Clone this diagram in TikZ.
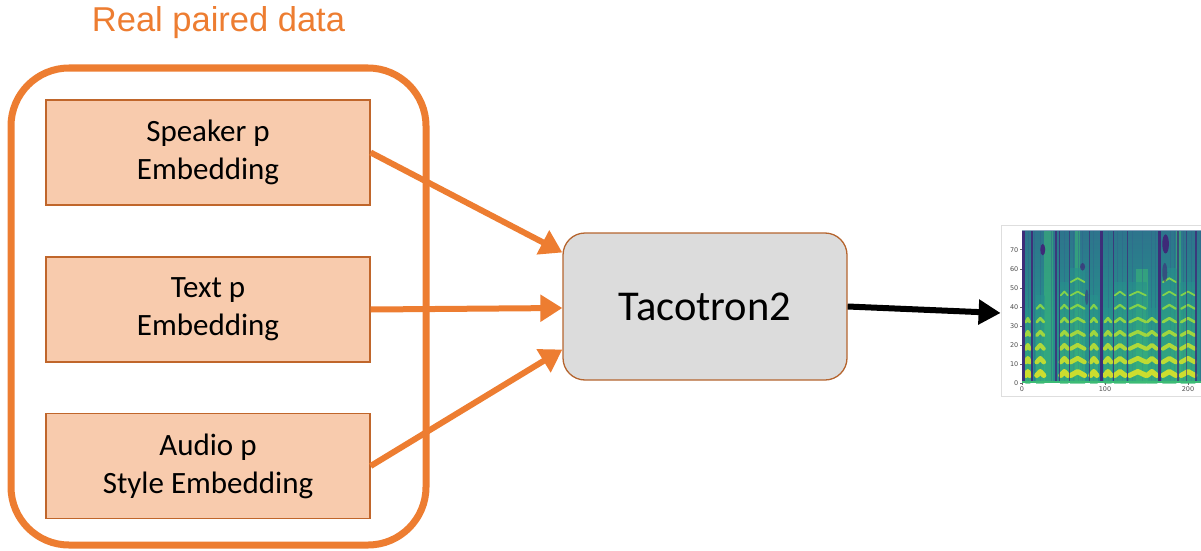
\documentclass[tikz,border=0pt]{standalone}
\usepackage{fontspec}
\setmainfont{Carlito}
\newfontfamily\titlefont{Liberation Sans}
\newfontfamily\tickfont{DejaVu Sans}
\usetikzlibrary{arrows.meta,calc}

\definecolor{accent}{HTML}{ED7D31}
\definecolor{boxfill}{HTML}{F8CBAD}
\definecolor{boxedge}{HTML}{C0662B}
\definecolor{modelfill}{HTML}{DCDCDC}
\definecolor{modeledge}{HTML}{B5652F}
% viridis-like palette for the mel spectrogram
\definecolor{vDark}{HTML}{3E2A78}
\definecolor{vBlue}{HTML}{32628D}
\definecolor{vTeal}{HTML}{27908C}
\definecolor{vGreen}{HTML}{3CBB75}
\definecolor{vLime}{HTML}{95D840}
\definecolor{vYellow}{HTML}{F0E51D}

\tikzset{
  titletext/.style={text=accent, font=\titlefont\fontsize{34.5}{40}\selectfont, inner sep=0pt},
  groupbox/.style={draw=accent, line width=7pt, rounded corners=58pt,
    minimum width=415pt, minimum height=477pt},
  embbox/.style={draw=boxedge, line width=1.3pt, fill=boxfill,
    minimum width=324pt, minimum height=105pt, align=center, inner sep=0pt,
    font=\fontsize{31}{38}\selectfont},
  modelbox/.style={draw=modeledge, line width=1.3pt, fill=modelfill,
    rounded corners=22pt, minimum width=284pt, minimum height=147pt,
    font=\fontsize{42.5}{48}\selectfont},
  feed/.style={draw=accent, line width=6pt, -{Triangle[length=22pt,width=26pt]}},
  outarrow/.style={draw=black, line width=6pt, -{Triangle[length=22pt,width=24pt]}},
  specframe/.style={draw=black!13, line width=0.8pt, minimum width=200pt, minimum height=171pt, inner sep=0pt},
  ticklabel/.style={font=\tickfont\fontsize{6.5}{7}\selectfont, text=black!70, inner sep=1pt},
}

\begin{document}
\begin{tikzpicture}[x=1pt,y=-1pt]
\useasboundingbox (0,0) rectangle (1201,551);

% group of real paired inputs
\node[titletext] (title) at (218.5,23) {Real paired data};
\node[groupbox] (group) at (218.5,306.5) {};

\node[embbox] (spk) at (208,152.5) {Speaker p\\Embedding};
\node[embbox] (txt) at (208,309.5) {Text p\\Embedding};
\node[embbox] (aud) at (208,466) {Audio p\\Style Embedding};

% synthesis model
\node[modelbox] (taco) at (705,306.5) {Tacotron2};

% spectrogram output
\node[specframe] (spec) at (1101,310.5) {};

\draw[feed] (spk.east) -- ($(taco.west)+(0,-54)$);
\draw[feed] (txt.east) -- ($(taco.west)+(0,1.5)$);
\draw[feed] (aud.east) -- ($(taco.west)+(0,43)$);
\draw[outarrow] (taco.east) -- ($(spec.west)+(0,2.5)$);

\begin{scope}[shift={(1022,383)}, x=0.83pt, y=1.905pt]
  \begin{scope}
    \clip (0,0) rectangle (216,80);
    \fill[vTeal] (0,0) rectangle (216,80);
    \shade[top color=vBlue, bottom color=vTeal, opacity=.6] (0,35) rectangle (216,80);
    % fricative noise bands
    \foreach \a/\b/\t in {27/37/80, 137/152/60, 186/191/80, 64/70/80} {
      \fill[vGreen, opacity=.55] (\a,0) rectangle (\b,\t);
    }
    % thin spectral striations
    \foreach \x in {7,15,22,35,50,62,68,72,86,103,115,120,133,145,156,160,178,183,194,203,214} {
      \fill[vBlue, opacity=.45] (\x,0) rectangle ({\x+1.2},80);
    }
    % voiced regions with harmonics
    \foreach \a/\b/\n in {4/10/5, 17/27/6, 46/56/7, 58/76/8, 82/91/6, 99/108/5,
                         111/125/7, 129/150/7, 150/163/5, 169/186/8, 191/209/7} {
      \shade[bottom color=vGreen, top color=vTeal, opacity=.6] (\a,0) rectangle (\b,{7*\n+4});
      \foreach \k in {1,...,\n} {
        \pgfmathsetmacro{\yy}{4+(\k-1)*7}
        \pgfmathsetmacro{\pp}{max(0,100-(\k-1)*20)}
        \pgfmathsetmacro{\lw}{max(1.8,5.2-(\k-1)*0.6)}
        \draw[draw=vYellow!\pp!vLime!80!vGreen, line width=\lw pt, line cap=round, line join=round]
          (\a+0.8,\yy) -- ({(\a+\b)/2},\yy+2) -- (\b-0.8,\yy);
      }
    }
    % silences and closures
    \foreach \x/\w/\o in {1.5/3/.95, 12/2/.9, 41/1.5/.8, 45/1.5/.8, 57/1.5/.7, 81/1.5/.7,
                          95.5/3.5/.95, 110/1.5/.8, 127/1.2/.7, 166/4/.95, 188/2/.7,
                          198/1.2/.6, 210/2/.8} {
      \fill[vDark, opacity=\o] ({\x-\w/2},0) rectangle ({\x+\w/2},80);
    }
    \fill[vDark] (25,70) ellipse [x radius=3, y radius=3];
    \fill[vDark] (173,73) ellipse [x radius=4, y radius=5];
    \fill[vDark, opacity=.7] (73,61) ellipse [x radius=3, y radius=2];
    \fill[vDark, opacity=.6] (172,58) ellipse [x radius=3, y radius=5];
    \fill[vDark, opacity=.5] (78,45) ellipse [x radius=2, y radius=4];
    \fill[vGreen] (0,0) rectangle (216,1.2);
  \end{scope}
  % axis ticks and labels
  \foreach \v in {0,10,...,70} {
    \draw[black!60, line width=0.4pt] (0,\v) -- ++(-2.5,0);
    \node[ticklabel, anchor=east] (yl\v) at (-3,\v) {\v};
  }
  \foreach \v in {0,100,200} {
    \draw[black!60, line width=0.4pt] (\v,0) -- ++(0,-1.3);
    \node[ticklabel, anchor=north] (xl\v) at (\v,-1.5) {\v};
  }
\end{scope}
\end{tikzpicture}
\end{document}
